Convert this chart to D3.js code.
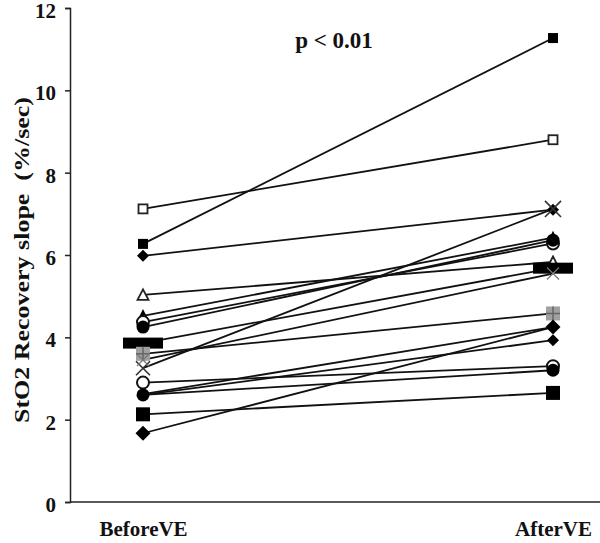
<!DOCTYPE html>
<html>
<head>
<meta charset="utf-8">
<script src="https://cdn.jsdelivr.net/npm/d3@7"></script>
<style>
  html, body { margin: 0; padding: 0; background: #fff; }
  svg { display: block; }
  text { font-family: "Liberation Serif", "Times New Roman", serif; font-weight: bold; fill: #111; }
</style>
</head>
<body>
<svg id="chart" width="600" height="543"></svg>
<script>
// ---- data ----
const conditions = ["BeforeVE", "AfterVE"];
const beforeValues = [7.12, 6.27, 5.98, 5.03, 4.52, 4.37, 4.25, 3.86, 3.60, 3.25, 3.45, 2.90, 2.60, 2.62, 2.60, 2.13, 1.67];
const afterValues  = [8.80, 11.27, 7.10, 5.83, 6.42, 6.28, 6.36, 5.68, 4.58, 7.12, 5.55, 3.30, 3.20, 4.25, 3.93, 2.65, 4.25];
const markerTypes  = ["openSquare", "filledSquare", "diamond", "openTriangle", "filledTriangle", "openCircle", "filledCircle",
                      "dash", "grayPlus", "cross", "thinCross", "openCircle", "filledCircle", "diamond", "diamond", "bigSquare", "bigDiamond"];
const yTicks = [0, 2, 4, 6, 8, 10, 12];
const yTitle = "StO2 Recovery slope\u00a0\u00a0(%/sec)";
const annotation = "p < 0.01";

// ---- layout ----
const svg = d3.select("#chart");
const axisX = 70, axisRight = 600;
const y = d3.scaleLinear().domain([0, 12]).range([502, 8]);
const x = d3.scalePoint().domain(conditions).range([143, 553]);

// y axis
const yAxis = svg.append("g")
  .attr("transform", `translate(${axisX},0)`)
  .call(d3.axisLeft(y).tickValues(yTicks).tickSize(5).tickPadding(9).tickFormat(d3.format("d")));
yAxis.select(".domain").attr("stroke", "#222").attr("stroke-width", 1.5);
yAxis.selectAll(".tick line").attr("stroke", "#222").attr("stroke-width", 1.5);
yAxis.selectAll(".tick text").style("font-size", "21px").style("font-family", "Liberation Serif")
  .style("font-weight", "bold").attr("fill", "#111").attr("dy", "0.45em");

// x axis line
svg.append("line").attr("x1", axisX).attr("x2", axisRight).attr("y1", y(0)).attr("y2", y(0))
  .attr("stroke", "#222").attr("stroke-width", 1.5);
const xAxis = svg.append("g")
  .attr("transform", `translate(0,${y(0)})`)
  .call(d3.axisBottom(x).tickSize(0).tickPadding(19));
xAxis.select(".domain").remove();
xAxis.selectAll(".tick text").style("font-size", "21px").style("font-family", "Liberation Serif")
  .style("font-weight", "bold").attr("fill", "#111");

// y title
svg.append("text")
  .attr("transform", `translate(29,${(y(0) + y(12)) / 2 + 5}) rotate(-90)`)
  .attr("text-anchor", "middle")
  .attr("textLength", 326)
  .attr("lengthAdjust", "spacingAndGlyphs")
  .style("font-size", "21px")
  .text(yTitle);

// annotation
svg.append("text").attr("x", 334).attr("y", 48).attr("text-anchor", "middle")
  .style("font-size", "23px").text(annotation);

// lines
const series = beforeValues.map((b, i) => ({ before: b, after: afterValues[i], type: markerTypes[i] }));
svg.append("g").selectAll("line").data(series).join("line")
  .attr("x1", x(conditions[0])).attr("y1", d => y(d.before))
  .attr("x2", x(conditions[1])).attr("y2", d => y(d.after))
  .attr("stroke", "#111").attr("stroke-width", 1.8);

function drawMarker(g, type, big) {
  const k = big ? 1.15 : 1;
  switch (type) {
    case "openSquare":
      g.append("rect").attr("x", -4.5).attr("y", -4.5).attr("width", 9).attr("height", 9)
        .attr("fill", "#fff").attr("stroke", "#222").attr("stroke-width", 1.8); break;
    case "filledSquare":
      g.append("rect").attr("x", -5).attr("y", -5).attr("width", 10).attr("height", 10).attr("fill", "#000"); break;
    case "bigSquare":
      g.append("rect").attr("x", -7).attr("y", -7).attr("width", 14).attr("height", 14).attr("fill", "#000"); break;
    case "diamond":
      g.append("path").attr("d", "M0,-6L6,0L0,6L-6,0Z").attr("fill", "#000"); break;
    case "bigDiamond":
      g.append("path").attr("d", "M0,-7.5L7.5,0L0,7.5L-7.5,0Z").attr("fill", "#000"); break;
    case "openTriangle":
      g.append("path").attr("d", "M0,-5.5L5.5,5L-5.5,5Z").attr("fill", "#fff").attr("stroke", "#222").attr("stroke-width", 1.8); break;
    case "filledTriangle":
      g.append("path").attr("d", "M0,-7L6,5L-6,5Z").attr("fill", "#000"); break;
    case "openCircle":
      g.append("circle").attr("r", 6).attr("fill", "#fff").attr("stroke", "#111").attr("stroke-width", 2); break;
    case "filledCircle":
      g.append("circle").attr("r", 6.5).attr("fill", "#000"); break;
    case "dash":
      g.append("rect").attr("x", -20).attr("y", -5.5).attr("width", 40).attr("height", 11).attr("fill", "#000"); break;
    case "grayPlus":
      g.append("rect").attr("x", -7).attr("y", -7).attr("width", 14).attr("height", 14).attr("fill", "#a0a0a0");
      g.append("path").attr("d", "M-7,0H7M0,-7V7").attr("stroke", "#666").attr("stroke-width", 1.5); break;
    case "cross": {
      const s = 7 * k;
      g.append("path").attr("d", `M${-s},${-s}L${s},${s}M${-s},${s}L${s},${-s}`).attr("stroke", "#333").attr("stroke-width", 1.6); break;
    }
    case "thinCross":
      g.append("path").attr("d", "M-6,-6L6,6M-6,6L6,-6").attr("stroke", "#777").attr("stroke-width", 1.2); break;
  }
}

// markers
const mg = svg.append("g");
series.forEach(d => {
  drawMarker(mg.append("g").attr("transform", `translate(${x(conditions[0])},${y(d.before)})`), d.type, false);
  drawMarker(mg.append("g").attr("transform", `translate(${x(conditions[1])},${y(d.after)})`), d.type, true);
});
</script>
</body>
</html>
